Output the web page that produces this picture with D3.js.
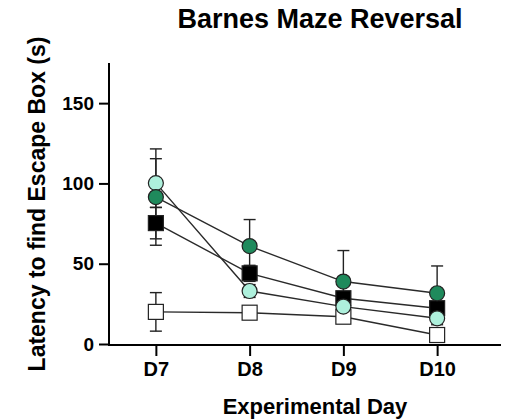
<!DOCTYPE html>
<html>
<head>
<meta charset="utf-8">
<script src="https://cdn.jsdelivr.net/npm/d3@7"></script>
<style>
  body { margin: 0; background: #fff; }
  text { font-family: "Liberation Sans", Arial, sans-serif; font-weight: bold; fill: #000; }
</style>
</head>
<body>
<div id="chart"></div>
<script>
const days = ['D7', 'D8', 'D9', 'D10'];
const yTicks = [0, 50, 100, 150];

// mean and error (SEM) per day
const whiteSqMean = [20, 19.5, 17, 5.6];
const whiteSqErr = [12, 2, 4, 1.5];
const blackSqMean = [75.3, 44, 28.5, 22.3];
const blackSqErr = [9.8, 5, 3.3, 3];
const lightCircMean = [100.2, 33, 23.3, 16];
const lightCircErr = [15.2, 4, 5, 4];
const darkCircMean = [91.5, 61, 38.9, 31.6];
const darkCircErr = [30, 16.5, 19.3, 17];

const series = [
    { name: 'white', shape: 'square', fill: '#ffffff', mean: whiteSqMean, err: whiteSqErr },
    { name: 'black', shape: 'square', fill: '#000000', mean: blackSqMean, err: blackSqErr },
    { name: 'light', shape: 'circle', fill: '#aef0dc', mean: lightCircMean, err: lightCircErr },
    { name: 'dark', shape: 'circle', fill: '#1f8a5c', mean: darkCircMean, err: darkCircErr }
];

const width = 505;
const height = 420;

const svg = d3.select('#chart')
    .append('svg')
    .attr('width', width)
    .attr('height', height);

const xScale = d3.scalePoint()
    .domain(days)
    .range([109, 484])
    .padding(0.5);
const yScale = d3.scaleLinear()
    .domain([0, 175])
    .range([344, 63]);

// axes
const xAxis = svg.append('g')
    .attr('transform', 'translate(0,345)')
    .call(d3.axisBottom(xScale).tickSize(11).tickSizeOuter(0).tickPadding(6));
xAxis.select('.domain').attr('d', 'M108,0H501');
xAxis.selectAll('line, path').attr('stroke', '#000').attr('stroke-width', 2);
xAxis.selectAll('text').attr('font-size', 20).attr('dy', '0.7em');

const yAxis = svg.append('g')
    .attr('transform', 'translate(109,0)')
    .call(d3.axisLeft(yScale).tickValues(yTicks).tickSize(10).tickSizeOuter(0).tickPadding(5));
yAxis.select('.domain').attr('d', 'M0,63V346');
yAxis.selectAll('line, path').attr('stroke', '#000').attr('stroke-width', 2);
yAxis.selectAll('text').attr('font-size', 19);

svg.selectAll('.domain').attr('fill', 'none');

// titles
svg.append('text')
    .attr('x', 320)
    .attr('y', 28)
    .attr('text-anchor', 'middle')
    .attr('font-size', 27)
    .text('Barnes Maze Reversal');

svg.append('text')
    .attr('x', 315)
    .attr('y', 414)
    .attr('text-anchor', 'middle')
    .attr('font-size', 22)
    .text('Experimental Day');

svg.append('text')
    .attr('transform', 'translate(45,204) rotate(-90)')
    .attr('text-anchor', 'middle')
    .attr('font-size', 23)
    .text('Latency to find Escape Box (s)');

// error bars first
const capW = 6;
series.forEach(s => {
    const g = svg.append('g');
    days.forEach((d, i) => {
        const x = xScale(d);
        const hi = yScale(s.mean[i] + s.err[i]);
        const lo = yScale(s.mean[i] - s.err[i]);
        g.append('line').attr('x1', x).attr('x2', x).attr('y1', hi).attr('y2', lo);
        g.append('line').attr('x1', x - capW).attr('x2', x + capW).attr('y1', hi).attr('y2', hi);
        g.append('line').attr('x1', x - capW).attr('x2', x + capW).attr('y1', lo).attr('y2', lo);
    });
    g.selectAll('line').attr('stroke', '#222').attr('stroke-width', 1.4);
});

// connecting lines
const line = d3.line()
    .x((d, i) => xScale(days[i]))
    .y(d => yScale(d));

series.forEach(s => {
    svg.append('path')
        .datum(s.mean)
        .attr('fill', 'none')
        .attr('stroke', '#2a2a2a')
        .attr('stroke-width', 1.4)
        .attr('d', line);
});

// markers
series.forEach(s => {
    const g = svg.append('g');
    if (s.shape === 'circle') {
        g.selectAll('circle')
            .data(s.mean)
            .join('circle')
            .attr('cx', (d, i) => xScale(days[i]))
            .attr('cy', d => yScale(d))
            .attr('r', 7.5)
            .attr('fill', s.fill)
            .attr('stroke', '#222')
            .attr('stroke-width', 1.2);
    } else {
        g.selectAll('rect')
            .data(s.mean)
            .join('rect')
            .attr('x', (d, i) => xScale(days[i]) - 7.5)
            .attr('y', d => yScale(d) - 7.5)
            .attr('width', 15)
            .attr('height', 15)
            .attr('fill', s.fill)
            .attr('stroke', '#222')
            .attr('stroke-width', 1.2);
    }
});
</script>
</body>
</html>
